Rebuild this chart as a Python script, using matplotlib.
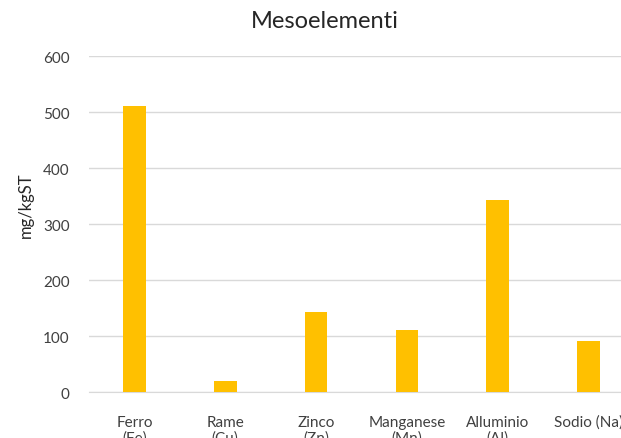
import matplotlib
matplotlib.use("Agg")
import matplotlib.pyplot as plt

categories = ["Ferro\n(Fe)", "Rame\n(Cu)", "Zinco\n(Zn)", "Manganese\n(Mn)", "Alluminio\n(Al)", "Sodio (Na)"]
values = [511, 20, 144, 112, 344, 92]
yticks = [0, 100, 200, 300, 400, 500, 600]

W, H = 621, 439
fig = plt.figure(figsize=(W / 100, H / 100), dpi=100)
plt.rcParams['font.family'] = ['Lato', 'DejaVu Sans']

left_px, right_px = 89, 634
bottom_px, top_px = 393.3, 57.3
ax = fig.add_axes([left_px / W, 1 - bottom_px / H, (right_px - left_px) / W, (bottom_px - top_px) / H])

x = list(range(len(categories)))
ax.bar(x, values, width=0.25, color="#FFC000", zorder=3)
ax.set_xlim(-0.5, len(categories) - 0.5)
ax.set_ylim(0, 600)
ax.set_yticks(yticks)
ax.set_yticklabels([str(v) for v in yticks])
ax.set_xticks(x)
ax.set_xticklabels(categories, linespacing=1.15)

ax.grid(axis="y", color="#D9D9D9", linewidth=1, zorder=0)
for s in ["top", "right", "left"]:
    ax.spines[s].set_visible(False)
ax.spines["bottom"].set_color("#D9D9D9")
ax.tick_params(axis="both", length=0, labelsize=11, colors="#595959")
ax.tick_params(axis="y", pad=14)
ax.tick_params(axis="x", pad=16)
for lab in ax.get_xticklabels() + ax.get_yticklabels():
    lab.set_color("#404040")

fig.text(26 / W, 1 - 205 / H, "mg/kgST", rotation=90, ha="center", va="center",
         fontsize=12, color="#262626")
fig.text(325 / W, 1 - 22 / H, "Mesoelementi", ha="center", va="center",
         fontsize=17, color="#262626")

fig.savefig("out.png", dpi=100)
